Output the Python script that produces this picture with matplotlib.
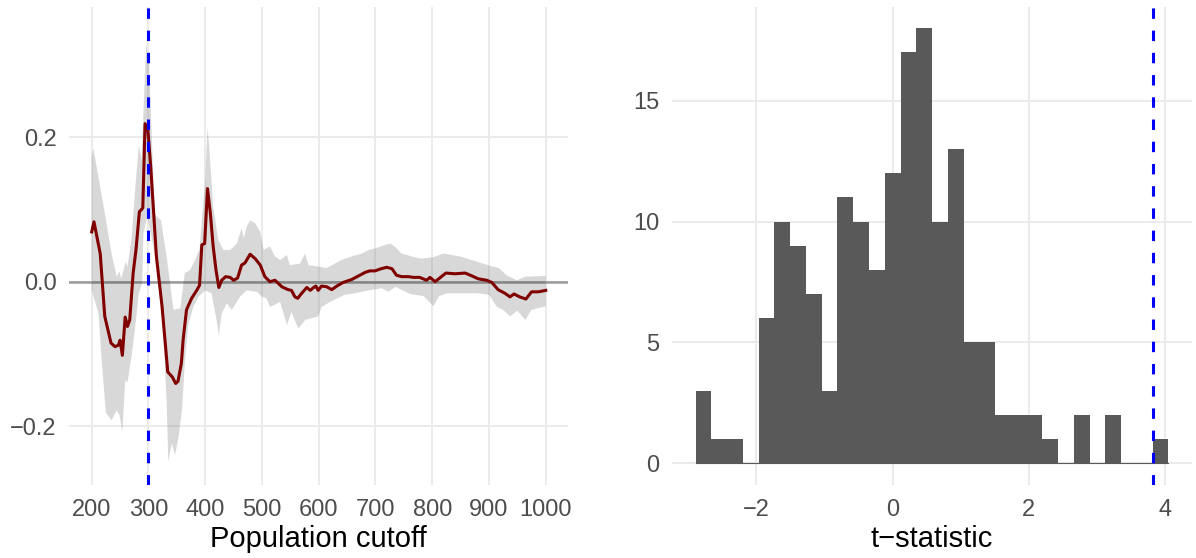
import numpy as np
import matplotlib
matplotlib.use("Agg")
import matplotlib.pyplot as plt

plt.rcParams['font.family'] = ['Liberation Sans', 'DejaVu Sans']
plt.rcParams['axes.unicode_minus'] = True
plt.rcParams['lines.scale_dashes'] = False

# Left panel: estimate by population cutoff
cutoff = [200, 204, 215, 223, 234, 241, 247, 250, 254, 259, 263, 267, 273, 278,
          284, 290, 294, 299, 304, 314, 324, 334, 342, 348, 352, 358, 361, 367,
          376, 385, 390, 394, 399, 404, 409, 414, 419, 424, 429, 436, 444, 450,
          457, 464, 470, 479, 488, 497, 505, 514, 523, 535, 546, 552, 558, 563,
          570, 579, 585, 591, 595, 599, 605, 614, 623, 632, 643, 658, 670, 682,
          690, 699, 710, 720, 729, 737, 746, 758, 767, 778, 790, 796, 805, 824,
          840, 858, 870, 881, 896, 905, 916, 928, 937, 944, 954, 965, 975, 987,
          1000]
estimate = [0.069, 0.083, 0.039, -0.048, -0.085, -0.090, -0.088, -0.081, -0.102,
            -0.049, -0.062, -0.053, 0.012, 0.044, 0.097, 0.102, 0.219, 0.210,
            0.159, 0.035, -0.035, -0.125, -0.132, -0.141, -0.138, -0.113, -0.081,
            -0.039, -0.023, -0.012, -0.005, 0.051, 0.053, 0.129, 0.095, 0.049,
            0.016, -0.008, 0.002, 0.007, 0.006, 0.002, 0.005, 0.023, 0.026,
            0.038, 0.032, 0.023, 0.007, 0.000, 0.002, -0.007, -0.011, -0.012,
            -0.021, -0.023, -0.016, -0.008, -0.012, -0.008, -0.006, -0.012,
            -0.006, -0.007, -0.011, -0.006, -0.001, 0.003, 0.008, 0.013, 0.015,
            0.015, 0.018, 0.020, 0.018, 0.009, 0.007, 0.007, 0.006, 0.006, 0.002,
            0.006, 0.000, 0.012, 0.011, 0.012, 0.008, 0.004, 0.002, -0.001,
            -0.011, -0.016, -0.021, -0.017, -0.021, -0.024, -0.014, -0.014,
            -0.012]

# confidence band, upper and lower edges
upper_x = [200, 203, 223, 235, 244, 249, 252, 260, 263, 270, 277, 283, 288, 292,
           296, 301, 306, 311, 315, 322, 332, 344, 356, 364, 373, 382, 390, 396,
           400, 404, 407, 414, 423, 432, 444, 456, 464, 468, 473, 479, 488, 497,
           503, 514, 523, 532, 544, 549, 567, 576, 582, 599, 614, 640, 658, 676,
           688, 699, 717, 726, 735, 746, 764, 780, 802, 820, 849, 878, 902, 917,
           931, 949, 964, 1000]
upper = [0.173, 0.185, 0.095, 0.039, 0.007, 0.014, 0.004, 0.028, 0.021, 0.058,
         0.132, 0.189, 0.169, 0.252, 0.330, 0.303, 0.196, 0.095, 0.090, 0.085,
         0.035, -0.039, -0.037, 0.012, 0.016, 0.030, 0.045, 0.104, 0.141, 0.215,
         0.187, 0.104, 0.058, 0.044, 0.044, 0.053, 0.074, 0.060, 0.076, 0.085,
         0.081, 0.069, 0.044, 0.049, 0.035, 0.030, 0.037, 0.023, 0.025, 0.039,
         0.023, 0.021, 0.019, 0.030, 0.035, 0.039, 0.044, 0.046, 0.051, 0.053,
         0.048, 0.039, 0.035, 0.032, 0.034, 0.039, 0.035, 0.028, 0.022, 0.019,
         0.009, 0.002, 0.007, 0.008]
lower_x = [200, 212, 218, 225, 235, 244, 249, 254, 259, 263, 271, 278, 283, 289,
           291, 298, 304, 315, 320, 326, 332, 335, 341, 347, 353, 359, 364, 370,
           379, 388, 400, 411, 420, 424, 429, 438, 447, 461, 473, 491, 500, 508,
           514, 532, 544, 552, 564, 576, 599, 605, 620, 646, 664, 688, 711, 723,
           735, 761, 785, 802, 812, 826, 879, 900, 914, 925, 937, 950, 964, 975,
           1000]
lower = [-0.012, -0.044, -0.113, -0.182, -0.192, -0.178, -0.185, -0.208, -0.136,
         -0.140, -0.099, -0.053, -0.016, -0.002, 0.067, 0.090, 0.067, 0.021,
         -0.002, -0.072, -0.164, -0.249, -0.224, -0.240, -0.215, -0.178, -0.113,
         -0.060, -0.035, -0.021, -0.012, -0.016, -0.053, -0.074, -0.044, -0.030,
         -0.039, -0.021, -0.012, -0.014, -0.021, -0.023, -0.035, -0.028, -0.060,
         -0.042, -0.065, -0.053, -0.048, -0.035, -0.028, -0.018, -0.016, -0.012,
         -0.009, -0.014, -0.007, -0.017, -0.020, -0.034, -0.020, -0.016, -0.016,
         -0.018, -0.035, -0.039, -0.048, -0.040, -0.053, -0.039, -0.034]
chosen_cutoff = 300

# Right panel: histogram of t-statistics (30 bins)
t_min, t_max = -2.891, 4.05
counts = [3, 1, 1, 0, 6, 10, 9, 7, 3, 11, 10, 8, 12, 17, 18,
          10, 13, 5, 5, 2, 2, 2, 1, 0, 2, 0, 2, 0, 0, 1]
observed_t = 3.824

grid_col = '#ebebeb'
tick_col = '#4d4d4d'

fig = plt.figure(figsize=(11.96, 5.58), dpi=100)
ax1 = fig.add_axes([0.0577, 0.1308, 0.4176, 0.8575])
ax2 = fig.add_axes([0.5619, 0.1308, 0.4348, 0.8575])

for ax in (ax1, ax2):
    for s in ax.spines.values():
        s.set_visible(False)
    ax.grid(True, color=grid_col, linewidth=1.4)
    ax.set_axisbelow(True)
    ax.tick_params(length=0, labelsize=17, labelcolor=tick_col)
    ax.tick_params(axis='x', pad=10)
    ax.tick_params(axis='y', pad=9)

# left panel
band_x = np.r_[upper_x, lower_x[::-1]]
band_y = np.r_[upper, lower[::-1]]
ax1.fill(band_x, band_y, color='#7f7f7f', alpha=0.3, linewidth=0, zorder=2)
ax1.axhline(0, color='black', alpha=0.33, linewidth=2.0, zorder=3)
ax1.plot(cutoff, estimate, color='#800000', linewidth=2.2, zorder=4)
ax1.axvline(chosen_cutoff, color='blue', linewidth=2.2, linestyle=(0, (7.5, 8.5)), zorder=5)
ax1.set_xlim(160, 1040)
ax1.set_ylim(-0.2817, 0.3813)
ax1.set_xticks(np.arange(200, 1001, 100))
ax1.set_yticks([-0.2, 0.0, 0.2])
ax1.set_yticklabels(['\u22120.2', '0.0', '0.2'])
ax1.set_xlabel('Population cutoff', fontsize=21, labelpad=3)

# right panel
edges = np.linspace(t_min, t_max, len(counts) + 1)
ax2.stairs(counts, edges, fill=True, color='#595959', zorder=2)
ax2.plot([edges[0], edges[-1]], [0, 0], color='#595959', linewidth=0.8, zorder=2)
ax2.axvline(observed_t, color='blue', linewidth=2.2, linestyle=(0, (7.5, 8.5)), zorder=5)
ax2.set_xlim(-3.238, 4.397)
ax2.set_ylim(-0.9, 18.9)
ax2.set_xticks([-2, 0, 2, 4])
ax2.set_xticklabels(['\u22122', '0', '2', '4'])
ax2.set_yticks([0, 5, 10, 15])
ax2.set_xlabel('t\u2212statistic', fontsize=21, labelpad=3)

fig.savefig('out.png', dpi=100)
